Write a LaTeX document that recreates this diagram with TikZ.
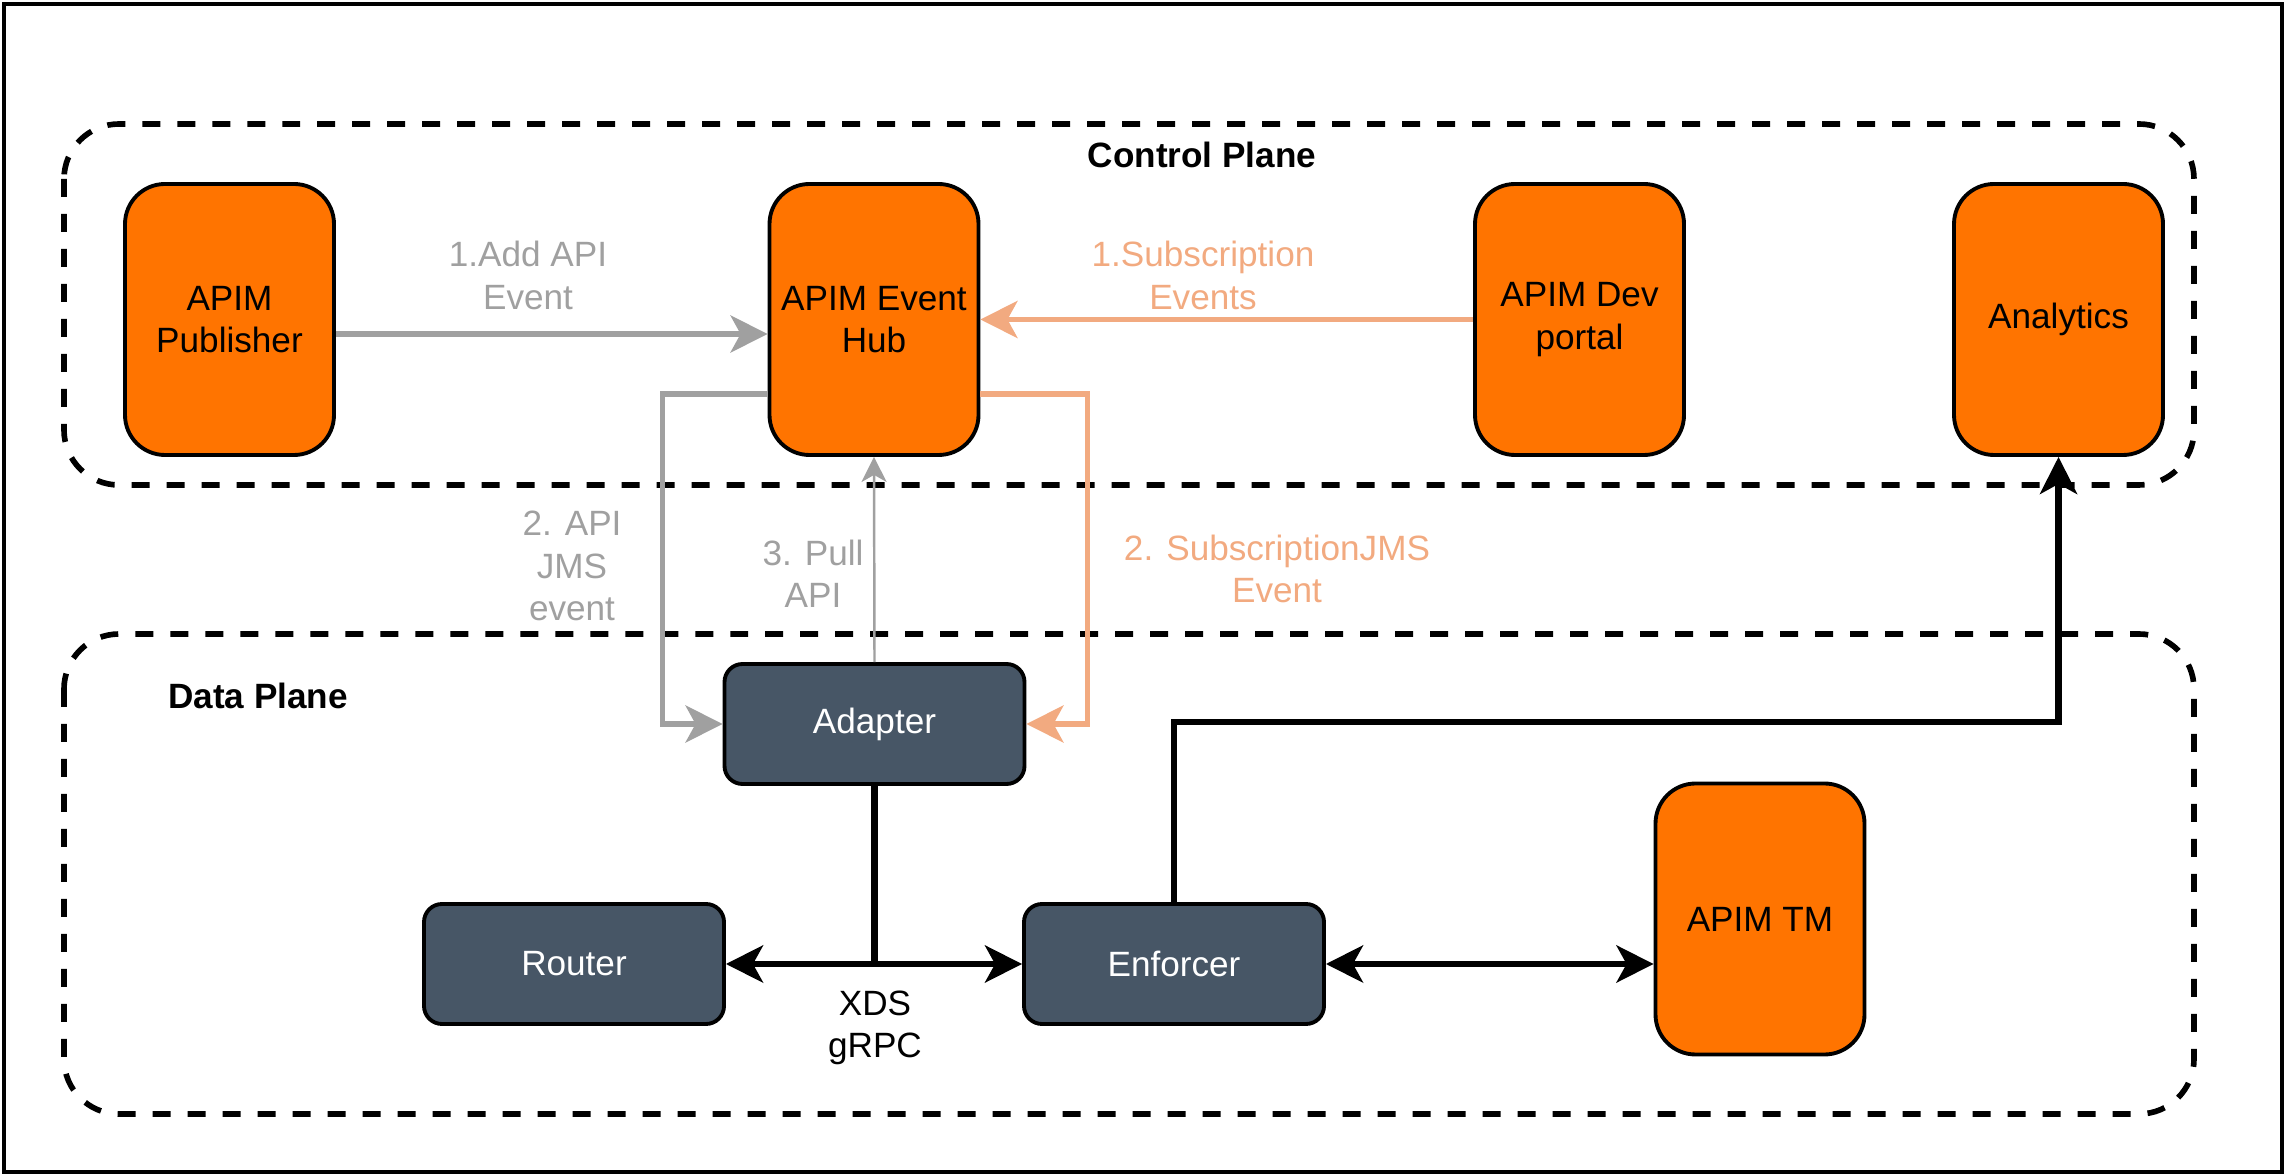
\documentclass[tikz,border=0pt]{standalone}
\usepackage{fontspec}
\setmainfont{Liberation Sans}
\usepackage{tikz}
\usetikzlibrary{arrows.meta}
\definecolor{apimorange}{RGB}{255,116,0}
\definecolor{slategrey}{RGB}{71,86,102}
\definecolor{flowgrey}{RGB}{160,160,160}
\definecolor{floworange}{RGB}{242,170,128}

\begin{document}
\begin{tikzpicture}[
    font=\fontsize{10}{12}\selectfont,
    >={Stealth[length=0.37cm,width=0.37cm,inset=0.1cm]},
    apim/.style={draw, line width=1.1pt, fill=apimorange, rounded corners=0.4cm, minimum width=2.09cm, minimum height=2.71cm, align=center, inner sep=0pt},
    svc/.style={draw, line width=1.1pt, fill=slategrey, text=white, rounded corners=0.18cm, minimum width=3cm, minimum height=1.2cm, inner sep=0pt},
    plane/.style={draw, line width=1.6pt, dash pattern=on 0.18cm off 0.17cm, rounded corners=0.55cm},
    planelabel/.style={font=\fontsize{10}{12}\selectfont\bfseries},
    greyflow/.style={->, draw=flowgrey, line width=1.6pt},
    orangeflow/.style={->, draw=floworange, line width=1.6pt},
    pullflow/.style={-{Stealth[length=0.25cm,width=0.25cm,inset=0.07cm]}, draw=flowgrey, line width=0.7pt},
    link/.style={draw=black, line width=1.8pt},
    greytext/.style={text=flowgrey, align=center},
    orangetext/.style={text=floworange, align=center}
]
\useasboundingbox (0,0) rectangle (22.86,-11.76);
\draw[line width=1.2pt] (0.04,-0.04) rectangle (22.82,-11.72);

% planes
\draw[plane] (0.64,-1.24) rectangle (21.94,-4.85);
\draw[plane] (0.64,-6.34) rectangle (21.94,-11.14);
\node[planelabel] (cplabel) at (12.02,-1.55) {Control Plane};
\node[planelabel] (dplabel) at (2.58,-6.96) {Data Plane};

\node[apim] (pub) at (2.295,-3.195) {APIM\\Publisher};
\node[apim] (hub) at (8.74,-3.195) {APIM Event\\Hub};
\node[apim] (dev) at (15.795,-3.195) {APIM Dev\\portal};
\node[apim] (ana) at (20.585,-3.195) {Analytics};

\node[svc] (adapter) at (8.745,-7.24) {Adapter};
\node[svc] (router) at (5.74,-9.64) {Router};
\node[svc] (enforcer) at (11.74,-9.64) {Enforcer};
\node[apim] (tm) at (17.6,-9.19) {APIM TM};

% events
\draw[greyflow] ([yshift=-0.145cm]pub.east) -- ([yshift=-0.145cm]hub.west);
\draw[orangeflow] (dev.west) -- (hub.east);
\draw[greyflow] ([yshift=-0.745cm]hub.west) -- ++(-1.05,0) |- (adapter.west);
\draw[orangeflow] ([yshift=-0.745cm]hub.east) -- ++(1.07,0) |- (adapter.east);
\draw[pullflow] (adapter.north) -- (hub.south);

\node[greytext] (addlbl) at (5.28,-2.755) {1.Add API\\Event};
\node[orangetext] (sublbl) at (12.03,-2.755) {1.Subscription\\Events};
\node[greytext] (jmslbl) at (5.72,-5.66) {2. API\\JMS\\event};
\node[greytext] (pulllbl) at (8.13,-5.74) {3. Pull\\API};
\node[orangetext] (subjmslbl) at (12.77,-5.69) {2. SubscriptionJMS\\Event};

% xds
\draw[link] (adapter.south) -- (adapter.south |- router.east);
\draw[link, <->] (router.east) -- (enforcer.west);
\draw[link, <->] (enforcer.east) -- (enforcer.east -| tm.west);
\draw[link, ->] (enforcer.north) -- ++(0,1.8) -| (ana.south);
\node[align=center] (xdslbl) at (8.75,-10.275) {XDS\\gRPC};
\end{tikzpicture}
\end{document}
